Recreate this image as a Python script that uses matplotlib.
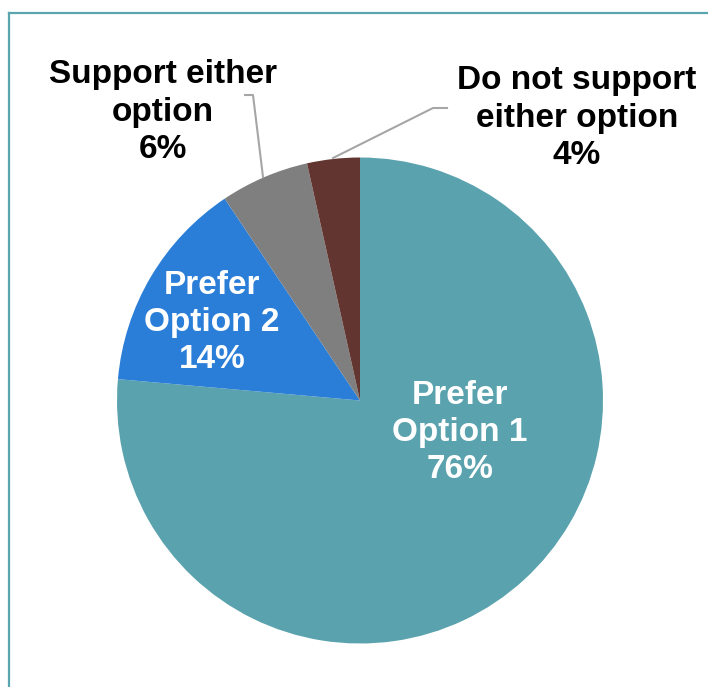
import matplotlib
matplotlib.use("Agg")
import matplotlib.pyplot as plt
from matplotlib.lines import Line2D

categories = ["Prefer\nOption 1", "Prefer\nOption 2", "Support either\noption", "Do not support\neither option"]
values = [76.4, 14.2, 5.9, 3.5]
shown_pct = [76, 14, 6, 4]
colors = ["#5aa2ae", "#2a7ed8", "#7f7f7f", "#633530"]

W, H = 708, 687
fig = plt.figure(figsize=(W / 100, H / 100), dpi=100)
ax = fig.add_axes([0, 0, 1, 1])

cx, cy, r = 360, H - 400.5, 243
ax.pie(values, colors=colors, startangle=90, counterclock=False,
       center=(cx, cy), radius=r, frame=True,
       wedgeprops=dict(linewidth=0))
ax.set_xlim(0, W)
ax.set_ylim(0, H)
ax.set_aspect("equal")
ax.axis("off")

font = dict(family=["Liberation Sans", "DejaVu Sans"], fontsize=24, fontweight="bold",
            ha="center", va="center", linespacing=1.25)
labels = [f"{c}\n{v}%" for c, v in zip(categories, shown_pct)]
ax.text(460, H - 432, labels[0], color="white", **font)
ax.text(212, H - 322, labels[1], color="white", **font)
ax.text(163, H - 112, labels[2], color="black", **font)
ax.text(577, H - 118, labels[3], color="black", **font)

# leader lines
ax.plot([245, 253, 263], [H - 95, H - 95, H - 177], color="#a6a6a6", lw=1.5)
ax.plot([447, 433, 333], [H - 108, H - 108, H - 158], color="#a6a6a6", lw=1.5)

# partial border
fig.add_artist(Line2D([8.5 / W, 8.5 / W], [0, 1 - 12.5 / H], transform=fig.transFigure,
                      color="#5aa5b0", lw=1.6))
fig.add_artist(Line2D([8.5 / W, 1], [1 - 12.5 / H, 1 - 12.5 / H], transform=fig.transFigure,
                      color="#5aa5b0", lw=1.6))

fig.savefig("out.png", dpi=100, facecolor="white")
